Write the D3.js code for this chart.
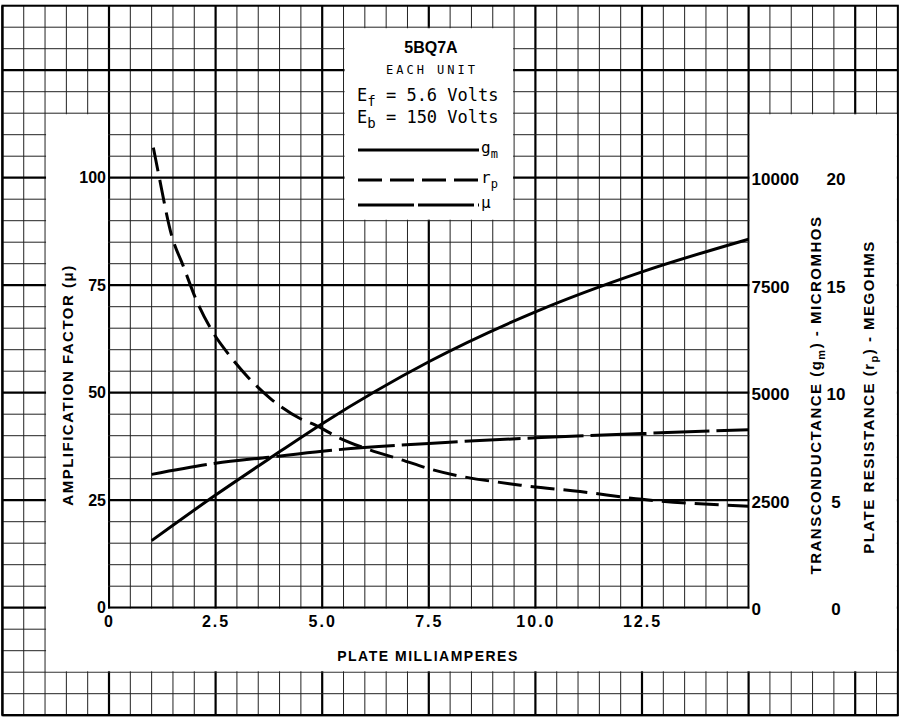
<!DOCTYPE html>
<html>
<head>
<meta charset="utf-8">
<script src="https://cdn.jsdelivr.net/npm/d3@7"></script>
<style>
  body { margin: 0; background: white; }
  text { font-family: "Liberation Sans", Arial, sans-serif; fill: black; }
</style>
</head>
<body>
<script>

/*** Data ***/

// plate current (mA) where gm and mu were read
let plateMA = [1, 2.5, 3.75, 5, 7.5, 10, 12.5, 15]
let gmValues = [1560, 2620, 3460, 4280, 5720, 6880, 7810, 8570]   // micromhos
let muValues = [31.0, 33.6, 35.0, 36.4, 38.2, 39.5, 40.5, 41.4]

// plate resistance was read at its own points (steep at low current)
let rpMA = [1.04, 1.16, 1.47, 1.74, 2.05, 2.41, 2.84, 3.27, 3.78, 4.48, 4.83, 5.42, 6.13, 6.83, 7.53, 9.65, 11.05, 12.5, 15]
let rpValues = [21.4, 20.2, 17.3, 15.9, 14.3, 12.9, 11.7, 10.7, 9.74, 8.8, 8.5, 7.88, 7.33, 6.9, 6.45, 5.7, 5.4, 5.04, 4.72]  // megohms

let xTicks = [0, 2.5, 5, 7.5, 10, 12.5]
let muTicks = [0, 25, 50, 75, 100]
let gmTicks = [0, 2500, 5000, 7500, 10000]
let rpTicks = [0, 5, 10, 15, 20]

const svgWidth = 907
const svgHeight = 717

let svg = d3.select("body")
    .append("svg")
    .attr("width", svgWidth)
    .attr("height", svgHeight)
    .style("background-color", "white")

/* Scales - the graph paper runs past the plot on every side */
let xScale = d3.scaleLinear().domain([0, 15]).range([109, 748.6])
let yScale = d3.scaleLinear().domain([0, 100]).range([607.7, 177.7])
let gmScale = d3.scaleLinear().domain([0, 10000]).range([607.7, 177.7])
let rpScale = d3.scaleLinear().domain([0, 20]).range([607.7, 177.7])

const paperX = [-2.5, 18.5]
const paperY = [-25, 140]

/* Graph paper */
let isMajor = (v, step) => Math.abs(v / step - Math.round(v / step)) < 1e-6

let grid = svg.append("g")

grid.selectAll(".vline")
    .data(d3.range(paperX[0], paperX[1] + 0.001, 0.5))
    .enter()
    .append("line")
    .attr("x1", d => xScale(d))
    .attr("x2", d => xScale(d))
    .attr("y1", yScale(paperY[0]))
    .attr("y2", yScale(paperY[1]))
    .attr("stroke", d => isMajor(d, 2.5) ? "#000" : "#222")
    .attr("stroke-width", d => isMajor(d, 2.5) ? 2.2 : 1)

grid.selectAll(".hline")
    .data(d3.range(paperY[0], paperY[1] + 0.001, 5))
    .enter()
    .append("line")
    .attr("y1", d => yScale(d))
    .attr("y2", d => yScale(d))
    .attr("x1", xScale(paperX[0]))
    .attr("x2", xScale(paperX[1]))
    .attr("stroke", d => isMajor(d, 25) ? "#000" : "#222")
    .attr("stroke-width", d => isMajor(d, 25) ? 2.2 : 1)

grid.append("rect")
    .attr("x", xScale(paperX[0]))
    .attr("y", yScale(paperY[1]))
    .attr("width", xScale(paperX[1]) - xScale(paperX[0]))
    .attr("height", yScale(paperY[0]) - yScale(paperY[1]))
    .attr("fill", "none")
    .attr("stroke", "black")
    .attr("stroke-width", 2)

// white U-shaped frame around the plot (labels live here)
let frame = [
    [xScale(-1.5) + 1, yScale(115) + 1],
    [xScale(0) - 1, yScale(115) + 1],
    [xScale(0) - 1, yScale(0) + 1],
    [xScale(15) + 1, yScale(0) + 1],
    [xScale(15) + 1, yScale(115) + 1],
    [xScale(18.5) - 1, yScale(115) + 1],
    [xScale(18.5) - 1, yScale(-15) - 1],
    [xScale(-1.5) + 1, yScale(-15) - 1]
]
svg.append("path")
    .attr("d", d3.line()(frame) + "Z")
    .attr("fill", "white")

// white title box
svg.append("rect")
    .attr("x", xScale(5.5) + 1)
    .attr("y", yScale(135) + 1)
    .attr("width", xScale(9.5) - xScale(5.5) - 2)
    .attr("height", yScale(90) - yScale(135) - 2)
    .attr("fill", "white")

/* Axes */
let leftAxis = svg.append("g")
    .attr("transform", `translate(${xScale(0)},0)`)
    .call(d3.axisLeft(yScale).tickValues(muTicks).tickSize(0).tickPadding(3))
leftAxis.select(".domain").remove()
leftAxis.selectAll("text")
    .style("font-size", "16px").style("font-weight", "bold")

let bottomAxis = svg.append("g")
    .attr("transform", `translate(0,${yScale(0)})`)
    .call(d3.axisBottom(xScale).tickValues(xTicks).tickSize(0).tickPadding(8)
        .tickFormat(d => d === 0 ? "0" : d3.format(".1f")(d)))
bottomAxis.select(".domain").remove()
bottomAxis.selectAll("text")
    .style("font-size", "16px").style("font-weight", "bold")
    .style("letter-spacing", "2px")

let gmAxis = svg.append("g")
    .attr("transform", `translate(${xScale(15)},0)`)
    .call(d3.axisRight(gmScale).tickValues(gmTicks).tickSize(0).tickPadding(3)
        .tickFormat(d3.format("d")))
gmAxis.select(".domain").remove()
gmAxis.selectAll("text")
    .style("font-size", "17px").style("font-weight", "bold")
    .attr("dy", "0.4em")

let rpAxis = svg.append("g")
    .attr("transform", `translate(836,0)`)
    .call(d3.axisRight(rpScale).tickValues(rpTicks).tickSize(0).tickPadding(0))
rpAxis.select(".domain").remove()
rpAxis.selectAll("text")
    .style("font-size", "17px").style("font-weight", "bold")
    .style("text-anchor", "middle")
    .attr("dy", "0.4em")

/* Curves */
let gmLine = d3.line()
    .x((d, i) => xScale(plateMA[i]))
    .y(d => gmScale(d))
    .curve(d3.curveMonotoneX)

let muLine = d3.line()
    .x((d, i) => xScale(plateMA[i]))
    .y(d => yScale(d))
    .curve(d3.curveMonotoneX)

let rpLine = d3.line()
    .x((d, i) => xScale(rpMA[i]))
    .y(d => rpScale(d))
    .curve(d3.curveMonotoneX)

svg.append("path")
    .attr("d", gmLine(gmValues))
    .attr("fill", "none").attr("stroke", "black").attr("stroke-width", 3)

svg.append("path")
    .attr("d", muLine(muValues))
    .attr("fill", "none").attr("stroke", "black").attr("stroke-width", 3)
    .attr("stroke-dasharray", "56,7")

svg.append("path")
    .attr("d", rpLine(rpValues))
    .attr("fill", "none").attr("stroke", "black").attr("stroke-width", 3)
    .attr("stroke-dasharray", "24,9")

/* Axis titles */
svg.append("text")
    .attr("transform", "translate(73,385) rotate(-90)")
    .style("text-anchor", "middle")
    .style("font-size", "15px").style("font-weight", "bold")
    .style("letter-spacing", "1.5px")
    .text("AMPLIFICATION FACTOR (μ)")

svg.append("text")
    .attr("x", 428)
    .attr("y", 661)
    .style("text-anchor", "middle")
    .style("font-size", "14px").style("font-weight", "bold")
    .style("letter-spacing", "1.5px")
    .text("PLATE MILLIAMPERES")

let gmTitle = svg.append("text")
    .attr("transform", "translate(821,395) rotate(-90)")
    .style("text-anchor", "middle")
    .style("font-size", "15px").style("font-weight", "bold")
    .style("letter-spacing", "1.5px")
gmTitle.append("tspan").text("TRANSCONDUCTANCE (g")
gmTitle.append("tspan").attr("dy", 4).style("font-size", "11px").text("m")
gmTitle.append("tspan").attr("dy", -4).text(") - MICROMHOS")

let rpTitle = svg.append("text")
    .attr("transform", "translate(874,397) rotate(-90)")
    .style("text-anchor", "middle")
    .style("font-size", "15px").style("font-weight", "bold")
    .style("letter-spacing", "1.5px")
rpTitle.append("tspan").text("PLATE RESISTANCE (r")
rpTitle.append("tspan").attr("dy", 4).style("font-size", "11px").text("p")
rpTitle.append("tspan").attr("dy", -4).text(") - MEGOHMS")

/* Title box */
svg.append("text")
    .attr("x", 431).attr("y", 53)
    .style("text-anchor", "middle")
    .style("font-size", "16px").style("font-weight", "bold")
    .text("5BQ7A")

svg.append("text")
    .attr("x", 432).attr("y", 74)
    .style("text-anchor", "middle")
    .style("font-family", "DejaVu Sans Mono, monospace")
    .style("font-size", "12px")
    .style("letter-spacing", "3px")
    .text("EACH UNIT")

let conditions = [["f", "5.6", 101], ["b", "150", 123]]
conditions.forEach(c => {
    let t = svg.append("text")
        .attr("x", 357).attr("y", c[2])
        .style("font-family", "DejaVu Sans Mono, monospace")
        .style("font-size", "17px")
    t.append("tspan").text("E")
    t.append("tspan").attr("dy", 5).style("font-size", "14px").text(c[0])
    t.append("tspan").attr("dy", -5).text(` = ${c[1]} Volts`)
})

// legend
let legendItems = [
    {name: "g", sub: "m", dash: null, y: 150},
    {name: "r", sub: "p", dash: "24,8", y: 180},
    {name: "μ", sub: "", dash: "56,4", y: 205}
]
legendItems.forEach(d => {
    svg.append("line")
        .attr("x1", 358).attr("x2", 479)
        .attr("y1", d.y).attr("y2", d.y)
        .attr("stroke", "black").attr("stroke-width", 3)
        .attr("stroke-dasharray", d.dash)
    let t = svg.append("text")
        .attr("x", 481).attr("y", d.y + 3)
        .style("font-family", "DejaVu Sans Mono, monospace")
        .style("font-size", "16px")
    t.append("tspan").text(d.name)
    if (d.sub) t.append("tspan").attr("dy", 5).style("font-size", "12px").text(d.sub)
})

</script>
</body>
</html>
